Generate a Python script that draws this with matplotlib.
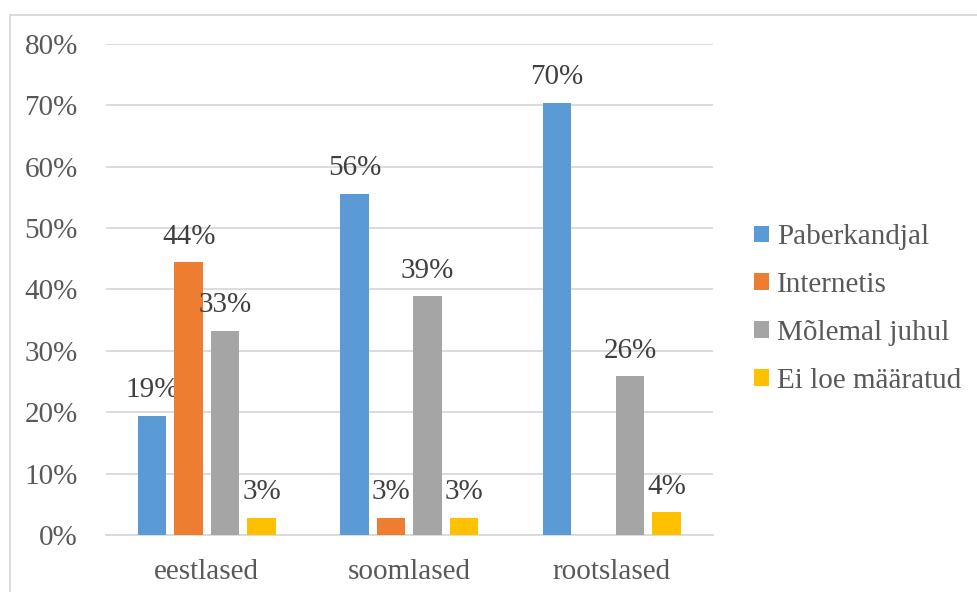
import matplotlib.pyplot as plt
import numpy as np
from matplotlib.patches import Rectangle

categories = ['eestlased', 'soomlased', 'rootslased']
series_names = ['Paberkandjal', 'Internetis', 'Mõlemal juhul', 'Ei loe määratud']
paberkandjal = [19.4, 55.6, 70.4]
internetis = [44.4, 2.8, 0.0]
molemal = [33.3, 38.9, 25.9]
ei_loe = [2.8, 2.8, 3.7]
colors = ['#5b9bd5', '#ed7d31', '#a5a5a5', '#ffc000']

plt.rcParams['font.family'] = ['Liberation Serif', 'DejaVu Serif']
FS = 21

fig = plt.figure(figsize=(9.78, 5.92), dpi=100)
ax = fig.add_axes([0.108, 0.0963, 0.621, 0.8294])

x = np.arange(len(categories))
width = 0.14
step = 0.18
series = [paberkandjal, internetis, molemal, ei_loe]

for i, (name, vals, col) in enumerate(zip(series_names, series, colors)):
    pos = x + (i - 1.5) * step
    ax.bar(pos, vals, width, color=col, label=name, zorder=3)
    for p, v in zip(pos, vals):
        if v > 0:
            ax.annotate(f'{v:.0f}%', (p, v), xytext=(0, 9), textcoords='offset points',
                        ha='center', va='bottom', fontsize=FS, color='#404040')

ax.set_xlim(-0.5, 2.5)
ax.set_ylim(0, 80)
ax.set_yticks(np.arange(0, 81, 10))
ax.set_yticklabels([f'{t}%' for t in range(0, 81, 10)])
ax.set_xticks(x)
ax.set_xticklabels(categories)
ax.tick_params(axis='y', length=0, pad=20, labelsize=FS, labelcolor='#595959')
ax.tick_params(axis='x', length=0, pad=17, labelsize=FS, labelcolor='#595959')
ax.grid(axis='y', color='#d9d9d9', linewidth=1.3, zorder=0)
for s in ['top', 'right', 'left']:
    ax.spines[s].set_visible(False)
ax.spines['bottom'].set_color('#d9d9d9')
ax.spines['bottom'].set_linewidth(1.3)

leg = fig.legend(loc='center left', bbox_to_anchor=(0.771, 0.478), frameon=False,
                 fontsize=FS, labelspacing=0.75, handlelength=0.5, handleheight=0.5,
                 handletextpad=0.3, borderaxespad=0, borderpad=0)
for t in leg.get_texts():
    t.set_color('#595959')

# chart area border
fig.patches.append(Rectangle((10 / 978, -0.1), 1.1, 1 - 15 / 592 + 0.1,
                             transform=fig.transFigure, fill=False,
                             edgecolor='#d9d9d9', linewidth=1.3))

fig.savefig('out.png', dpi=100)
